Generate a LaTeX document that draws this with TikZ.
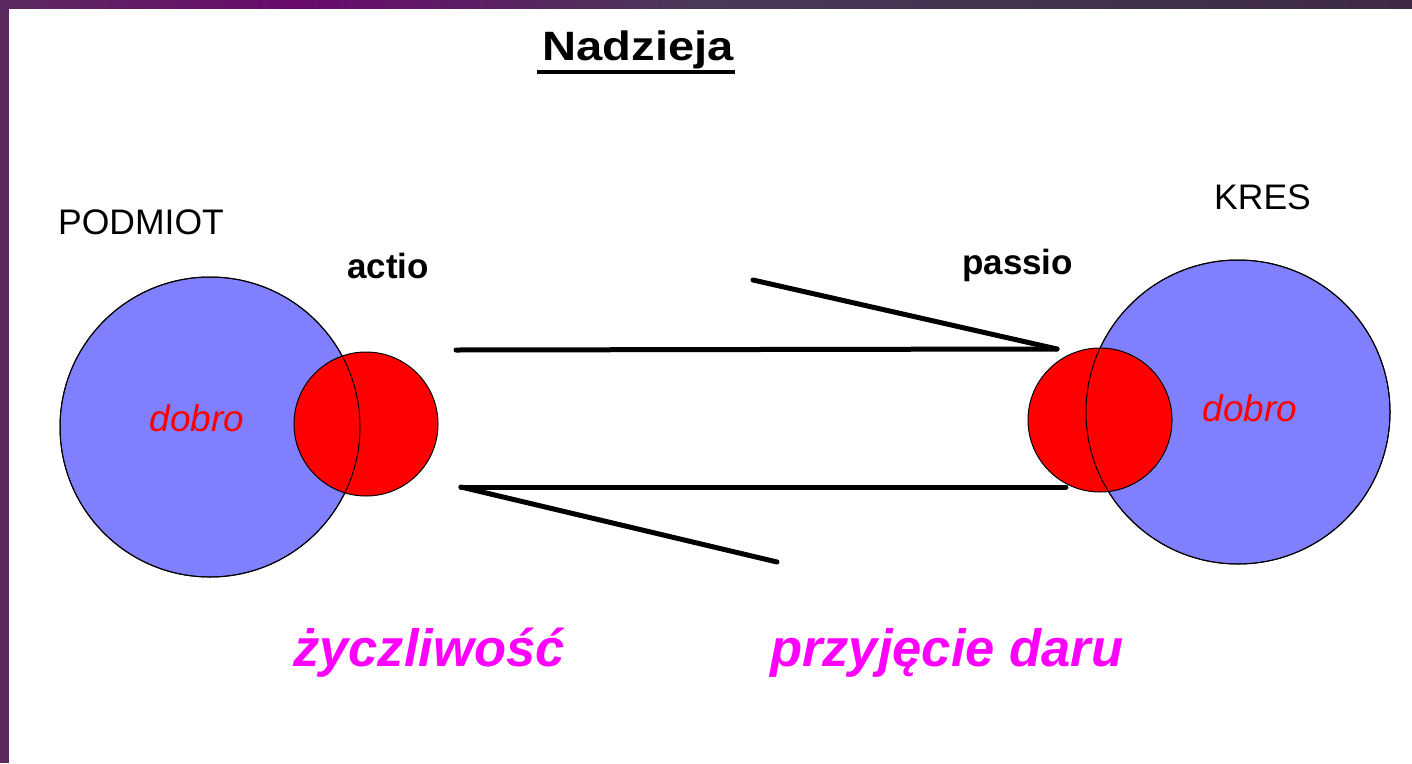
\documentclass[tikz,border=0pt]{standalone}
\usepackage{fontspec}
\setmainfont{Liberation Sans}
\usepackage{graphicx}
\definecolor{blueC}{HTML}{8080FF}
\definecolor{redC}{HTML}{FF0000}
\definecolor{magC}{HTML}{FF00FF}
\definecolor{bordL}{HTML}{5C2A60}
\definecolor{bordA}{HTML}{6A0A6C}
\definecolor{bordB}{HTML}{4A3A58}
\definecolor{bordC}{HTML}{3E2A44}
\tikzset{
  bigc/.style={circle, inner sep=0pt, minimum size=#1, fill=blueC, draw=black, line width=1pt},
  smallc/.style={circle, inner sep=0pt, minimum size=144pt, fill=redC, draw=black, line width=1pt},
  lbl/.style={font=\fontsize{35.5}{40}\selectfont, text=black, inner sep=0pt, anchor=base west},
  lblb/.style={font=\fontsize{35}{40}\selectfont\bfseries, text=black, inner sep=0pt, anchor=base west},
  dobro/.style={font=\fontsize{37}{40}\selectfont\itshape, text=redC, inner sep=0pt},
  virt/.style={font=\fontsize{52.5}{56}\selectfont\bfseries\itshape, text=magC, inner sep=0pt, anchor=base west},
  bar/.style={line width=5pt, draw=black, line cap=round}
}
\begin{document}
\begin{tikzpicture}[x=1pt,y=-1pt]
\useasboundingbox (0,0) rectangle (1412,763);
\fill[white] (0,0) rectangle (1412,763);
% frame
\shade[left color=bordL, right color=bordA] (0,0) rectangle (300,8);
\shade[left color=bordA, right color=bordB] (300,0) rectangle (700,8);
\shade[left color=bordB, right color=bordC] (700,0) rectangle (1412,8);
\fill[bordL] (0,0) rectangle (9,763);

% title
\node[font=\fontsize{41}{44}\selectfont\bfseries, inner sep=0pt, anchor=base] (title) at (638,60) {\scalebox{1.15}[1]{Nadzieja}};
\draw[line width=3.5pt] (537,72) -- (735,72);

% left group
\node[bigc=300pt] (subj) at (210,427) {};
\node[smallc] (act) at (366,424) {};
\draw[line width=1pt] (subj.center) circle[radius=150pt];
\node[dobro] (d1) at (197,418) {dobro};
\node[lbl] (podmiot) at (58,234) {PODMIOT};
\node[lblb] (actio) at (347,278) {actio};

% right group
\node[bigc=304pt] (kres) at (1238,412) {};
\node[smallc] (pas) at (1100,420) {};
\draw[line width=1pt] (kres.center) circle[radius=152pt];
\node[dobro] (d2) at (1250,408) {dobro};
\node[lbl] (kreslbl) at (1214,209) {KRES};
\node[lblb] (passio) at (962,274) {passio};

% connectors
\coordinate (u1) at (456,350);
\coordinate (u2) at (1057,349);
\coordinate (u3) at (753,280);
\coordinate (l1) at (461,487);
\coordinate (l2) at (1066,487);
\coordinate (l3) at (777,562);
\draw[bar] (u1) -- (u2);
\draw[bar] (u3) -- (u2);
\draw[bar] (l1) -- (l2);
\draw[bar] (l1) -- (l3);

% virtues
\node[virt] (zycz) at (293,666) {życzliwość};
\node[virt] (przyj) at (770,666) {przyjęcie daru};
\end{tikzpicture}
\end{document}
